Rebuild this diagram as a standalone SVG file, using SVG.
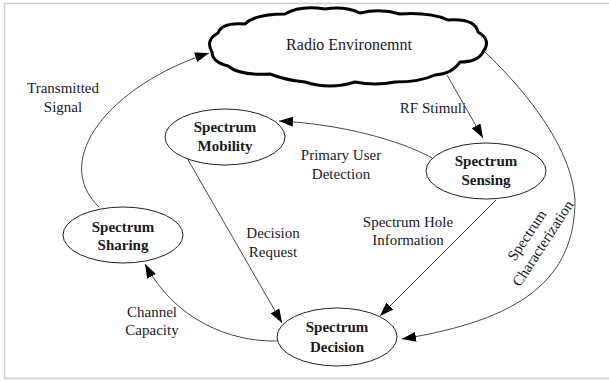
<svg xmlns="http://www.w3.org/2000/svg" width="609" height="381" viewBox="0 0 609 381">
<style>
.frame{fill:none;stroke:#cccccc;stroke-width:1.5}
.node{fill:#ffffff;stroke:#222;stroke-width:1}
.cloud{fill:#ffffff;stroke:#000;stroke-width:3;stroke-linejoin:round}
.nl{font-family:"Liberation Serif",serif;font-weight:bold;font-size:15px;fill:#1a1a1a;text-anchor:middle}
.el{font-family:"Liberation Serif",serif;font-size:15px;fill:#1a1a2a;text-anchor:middle}
.edge{fill:none;stroke:#333;stroke-width:0.9}
</style>
<defs>
<marker id="arr" markerUnits="userSpaceOnUse" viewBox="0 0 14 10" markerWidth="14" markerHeight="10" refX="14" refY="5" orient="auto">
<path d="M0,0 L14,5 L0,10 z" fill="#000"/>
</marker>
</defs>
<rect width="609" height="381" fill="#ffffff"/>
<path class="frame" d="M612,3.5 H4.5 V378.5 H612"/>

<g id="connectors">
<path class="edge" marker-end="url(#arr)" d="M447,75 L483,138"/>
<path class="edge" marker-end="url(#arr)" d="M432,158 C400,140 340,124 279,121"/>
<path class="edge" marker-end="url(#arr)" d="M496,200 L380,316"/>
<path class="edge" marker-end="url(#arr)" d="M187,158 L282,323"/>
<path class="edge" marker-end="url(#arr)" d="M277,341 C230,342 175,320 145,264"/>
<path class="edge" marker-end="url(#arr)" d="M99,207 C50,160 110,85 209,53"/>
<path class="edge" marker-end="url(#arr)" d="M485,52 C530,95 572,150 575,200 C575,280 520,320 402,339"/>
</g>

<g id="radio-environment">
<path class="cloud" d="M212,52 Q205,40 218,33 Q222,22 245,24 Q255,14 285,14 Q300,5 325,9 Q345,6 360,13 Q380,8 400,14 Q430,12 448,20 Q475,18 478,32 Q492,40 483,52 Q478,62 460,62 Q452,74 435,75 Q420,82 395,82 Q375,86 355,82 Q330,90 305,82 Q285,80 270,74 Q240,76 228,66 Q212,62 212,52 Z"/>
<text class="el" style="font-size:16px" x="349" y="50">Radio Environemnt</text>
</g>

<g id="spectrum-mobility">
<ellipse class="node" cx="225" cy="137" rx="60" ry="28"/>
<text class="nl" x="225" y="132">Spectrum</text>
<text class="nl" x="225" y="151">Mobility</text>
</g>

<g id="spectrum-sensing">
<ellipse class="node" cx="486" cy="171" rx="60" ry="28"/>
<text class="nl" x="486" y="166">Spectrum</text>
<text class="nl" x="486" y="185">Sensing</text>
</g>

<g id="spectrum-sharing">
<ellipse class="node" cx="123" cy="235" rx="60" ry="28"/>
<text class="nl" x="123" y="232">Spectrum</text>
<text class="nl" x="123" y="250">Sharing</text>
</g>

<g id="spectrum-decision">
<ellipse class="node" cx="337" cy="337" rx="60" ry="29"/>
<text class="nl" x="337" y="332">Spectrum</text>
<text class="nl" x="337" y="352">Decision</text>
</g>

<g id="edge-labels">
<text class="el" x="63" y="93">Transmitted</text>
<text class="el" x="63" y="112">Signal</text>
<text class="el" x="433" y="113">RF Stimuli</text>
<text class="el" x="341" y="160">Primary User</text>
<text class="el" x="341" y="179">Detection</text>
<text class="el" x="408" y="227">Spectrum Hole</text>
<text class="el" x="408" y="245">Information</text>
<text class="el" x="273" y="238">Decision</text>
<text class="el" x="273" y="257">Request</text>
<text class="el" x="152" y="317">Channel</text>
<text class="el" x="152" y="335">Capacity</text>
<text class="el" transform="translate(531,238) rotate(-56)">Spectrum</text>
<text class="el" transform="translate(547,246) rotate(-57)">Characterization</text>
</g>
</svg>
